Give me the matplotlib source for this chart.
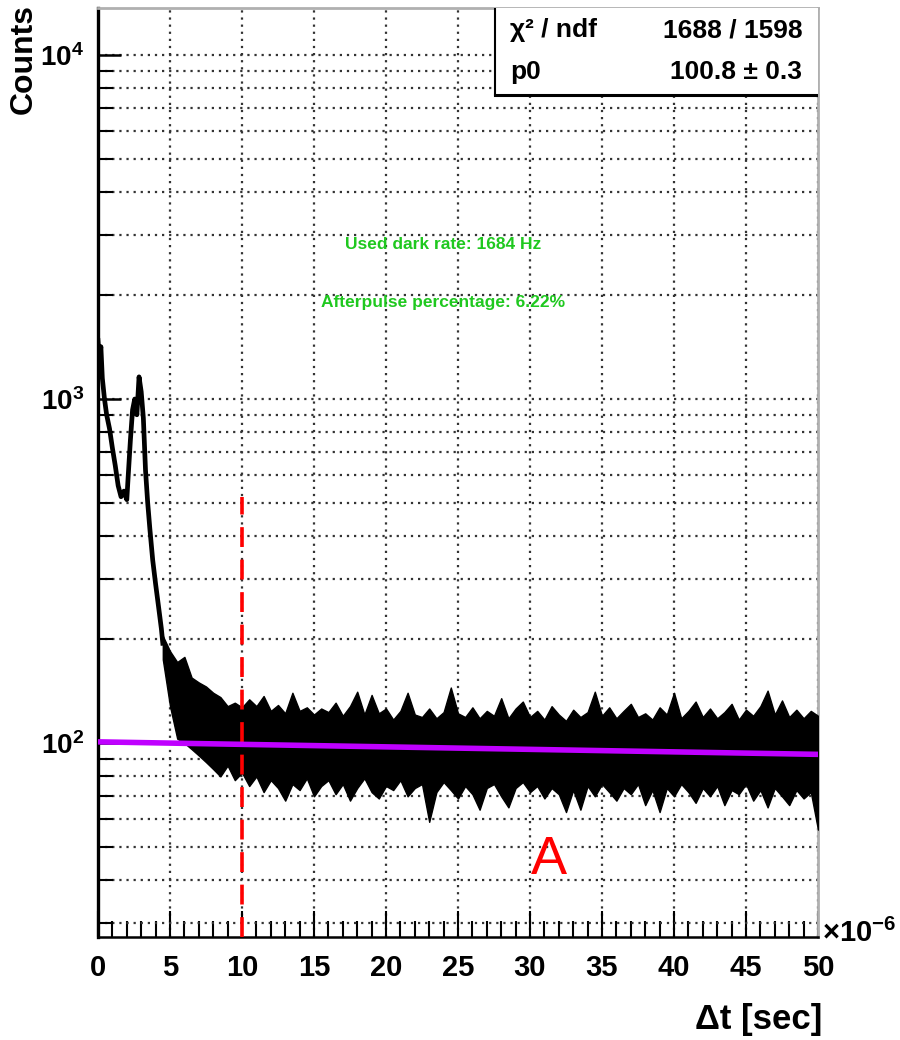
import numpy as np
import matplotlib.pyplot as plt
from matplotlib.ticker import MultipleLocator, LogLocator, NullFormatter, FuncFormatter
from matplotlib.patches import Rectangle

plt.rcParams['font.family'] = ['Liberation Sans', 'DejaVu Sans']
plt.rcParams['font.weight'] = 'bold'
plt.rcParams['mathtext.default'] = 'regular'

# afterpulse region at small dt (x in units of 1e-6 s)
early_t = [0.0, 0.1, 0.2, 0.3, 0.45, 0.6, 0.8, 1.0, 1.2, 1.4, 1.6, 1.8, 2.0, 2.1,
           2.25, 2.4, 2.55, 2.7, 2.85, 3.0, 3.15, 3.3, 3.45, 3.6, 3.8, 4.0, 4.2, 4.4, 4.5]
early_counts = [1480, 1300, 1420, 1150, 1000, 900, 820, 720, 640, 560, 520, 540, 510, 600,
                760, 930, 1000, 900, 1160, 1050, 880, 620, 500, 420, 340, 290, 250, 215, 195]

# flat dark-noise region: upper / lower edge of the bins, every 0.5 us
band_t = np.arange(4.5, 50.25, 0.5)
band_hi = [205, 185, 172, 178, 155, 150, 146, 140, 136, 128,
           131, 127, 134, 128, 137, 124, 129, 122, 140, 124,
           127, 121, 126, 123, 131, 120, 128, 141, 121, 138,
           122, 126, 117, 124, 140, 121, 119, 126, 118, 123,
           145, 122, 119, 127, 118, 124, 120, 135, 118, 126,
           132, 119, 124, 117, 128, 121, 116, 125, 119, 123,
           141, 120, 127, 118, 124, 130, 119, 122, 117, 127,
           121, 140, 118, 124, 132, 119, 126, 118, 123, 130,
           117, 125, 120, 128, 142, 121, 133, 119, 125, 118,
           124, 120]
band_lo = [175, 128, 103, 100, 96, 92, 88, 84, 80, 86,
           78, 82, 75, 80, 72, 78, 74, 68, 76, 73,
           79, 70, 75, 78, 71, 76, 68, 74, 79, 72,
           69, 75, 73, 78, 70, 74, 76, 59, 72, 77,
           73, 69, 75, 71, 64, 74, 76, 70, 65, 74,
           77, 72, 75, 69, 74, 71, 63, 73, 64, 75,
           70, 76, 72, 68, 74, 71, 76, 66, 73, 63,
           74, 70, 76, 72, 67, 74, 70, 75, 66, 73,
           71, 76, 68, 73, 65, 74, 70, 66, 73, 69,
           72, 56]

# fit curve (p0 with fixed dark rate), end points
fit_t = [0, 50]
fit_counts = [100.8, 92.7]

# cut marker
cut_t = 10
cut_top = 520

y_min, y_max = 27.3, 13700

fig = plt.figure(figsize=(9, 10.4), dpi=100)
ax = fig.add_axes([98 / 900, 1 - 937 / 1040, 720 / 900, 929 / 1040])

ax.fill_between(band_t, band_lo, band_hi, color='black', lw=1.0, zorder=3)
ax.plot(early_t, early_counts, color='black', lw=3.4, zorder=3)
ax.vlines(cut_t, y_min, cut_top, color='red', lw=2.6, linestyles=(0, (5.5, 3.5)), zorder=4)
ax.plot(fit_t, fit_counts, color='#bf00ff', lw=4.0, zorder=5)

ax.set_yscale('log')
ax.set_xlim(0, 50)
ax.set_ylim(y_min, y_max)

ax.xaxis.set_major_locator(MultipleLocator(5))
ax.xaxis.set_minor_locator(MultipleLocator(1))
ax.yaxis.set_major_locator(LogLocator(base=10))
ax.yaxis.set_minor_locator(LogLocator(base=10, subs=np.arange(2, 10)))
ax.yaxis.set_minor_formatter(NullFormatter())
ax.yaxis.set_major_formatter(FuncFormatter(lambda v, p: '10$^{%d}$' % round(np.log10(v))))

ax.tick_params(which='both', direction='in', top=False, right=False, color='black')
ax.tick_params(axis='x', which='major', length=19, width=1.5, labelsize=21, pad=12)
ax.tick_params(axis='x', which='minor', length=11.5, width=1.5)
ax.tick_params(axis='y', which='major', length=16.5, width=1.8, labelsize=20, pad=10)
ax.tick_params(axis='y', which='minor', length=10.5, width=1.5)

grid_style = dict(color='#333333', linestyle=(0, (1, 2.2)), linewidth=1.6)
ax.grid(True, which='major', axis='x', **grid_style)
ax.grid(True, which='both', axis='y', **grid_style)
ax.set_axisbelow(True)

ax.spines['left'].set_linewidth(2.4)
ax.spines['bottom'].set_linewidth(1.8)
for side in ['top', 'right']:
    ax.spines[side].set_color('#b0b0b0')
    ax.spines[side].set_linewidth(2)

# stats box
ax.add_patch(Rectangle((0.551, 0.906), 0.449, 0.094, transform=ax.transAxes,
                       facecolor='white', edgecolor='none', zorder=6, clip_on=False))
ax.plot([0.551, 0.551], [0.906, 1.0], transform=ax.transAxes, color='black', lw=1.5, zorder=7)
ax.plot([0.551, 1.0], [0.906, 0.906], transform=ax.transAxes, color='black', lw=2.2, zorder=7)
ax.text(0.572, 0.976, 'χ² / ndf', transform=ax.transAxes, fontsize=19, ha='left', va='center', zorder=8)
ax.text(0.978, 0.976, '1688 / 1598', transform=ax.transAxes, fontsize=19, ha='right', va='center', zorder=8)
ax.text(0.572, 0.931, 'p0', transform=ax.transAxes, fontsize=19, ha='left', va='center', zorder=8)
ax.text(0.978, 0.931, '100.8 ± 0.3', transform=ax.transAxes, fontsize=19, ha='right', va='center', zorder=8)

ax.text(0.479, 0.745, 'Used dark rate: 1684 Hz', transform=ax.transAxes, ha='center', va='center',
        color='#1fc81f', fontsize=12.5)
ax.text(0.479, 0.6835, 'Afterpulse percentage: 6.22%', transform=ax.transAxes, ha='center', va='center',
        color='#1fc81f', fontsize=12.5)
ax.text(31.3, 41.6, 'A', color='red', fontsize=39, fontweight='normal', ha='center', va='baseline')

fig.text(24 / 900, 1 - 4 / 1040, 'Counts', rotation=90, ha='center', va='top', fontsize=23)
fig.text(822 / 900, 1 - 1020 / 1040, 'Δt [sec]', ha='right', va='center', fontsize=25)
fig.text(822 / 900, 1 - 933 / 1040, '×10$^{-6}$', ha='left', va='center', fontsize=21)

fig.savefig('out.png', dpi=100)
